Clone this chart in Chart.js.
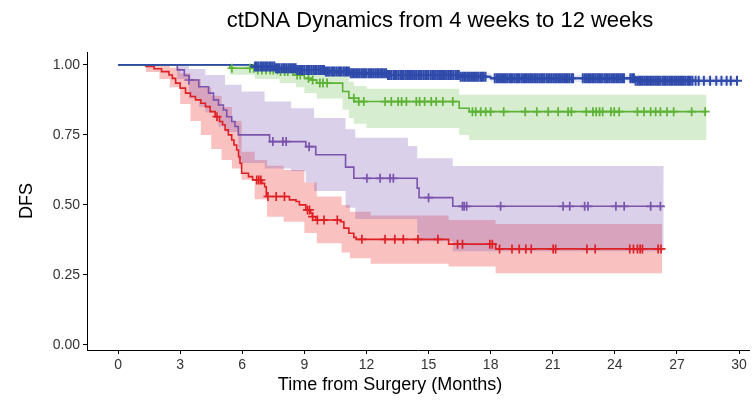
<!DOCTYPE html>
<html>
<head>
<meta charset="utf-8">
<script src="https://cdn.jsdelivr.net/npm/chart.js@4.4.1/dist/chart.umd.min.js"></script>
<style>
  body { margin: 0; background: #fff; }
  #wrap { width: 756px; height: 400px; }
</style>
</head>
<body>
<div id="wrap"><canvas id="kmChart" width="756" height="400"></canvas></div>
<script>
// ---- data: Kaplan-Meier steps (time in months -> DFS after the drop) ----
const xTicks = [0, 3, 6, 9, 12, 15, 18, 21, 24, 27, 30];
const yTicks = [0, 0.25, 0.5, 0.75, 1];

const blueTimes = [0, 6.6, 7.6, 8.6, 10.0, 11.2, 13.0, 16.5, 18.0, 25.0, 29.95];
const blueSurv  = [1, 0.994, 0.988, 0.982, 0.976, 0.97, 0.964, 0.958, 0.952, 0.943, 0.943];
const blueUpper = [1, 1, 0.996, 0.992, 0.987, 0.982, 0.977, 0.971, 0.965, 0.957, 0.957];
const blueLower = [1, 0.986, 0.978, 0.971, 0.964, 0.957, 0.95, 0.944, 0.938, 0.928, 0.928];
const blueCensor = [6.62, 6.7, 6.78, 6.88, 6.95, 7.04, 7.12, 7.2, 7.3, 7.38, 7.46, 7.55, 7.63, 7.72, 7.8,
  7.9, 7.98, 8.06, 8.15, 8.24, 8.32, 8.4, 8.5, 8.58, 8.66, 8.75, 8.84, 8.92, 9.0, 9.1, 9.18, 9.26, 9.35,
  9.44, 9.52, 9.6, 9.7, 9.78, 9.86, 9.95, 10.04, 10.12, 10.2, 10.3, 10.38, 10.46, 10.55, 10.64, 10.72,
  10.8, 10.9, 10.98, 11.06, 11.15, 11.24, 11.32, 11.4, 11.5, 11.58, 11.66, 11.75, 11.84, 11.92, 12.0,
  12.1, 12.18, 12.26, 12.35, 12.44, 12.52, 12.6, 12.7, 12.78, 12.86, 12.95, 13.04, 13.12, 13.2, 13.3,
  13.38, 13.46, 13.55, 13.64, 13.72, 13.8, 13.9, 13.98, 14.06, 14.15, 14.24, 14.32, 14.4, 14.5, 14.58,
  14.66, 14.75, 14.84, 14.92, 15.0, 15.1, 15.18, 15.26, 15.35, 15.44, 15.52, 15.6, 15.7, 15.78, 15.86,
  15.95, 16.04, 16.12, 16.2, 16.3, 16.38, 16.46, 16.55, 16.64, 16.72, 16.8, 16.9, 16.98, 17.06, 17.15,
  17.24, 17.32, 17.4, 17.5, 17.58, 17.66, 17.75, 18.2, 18.3, 18.38, 18.46, 18.55, 18.64, 18.72, 18.8,
  18.9, 18.98, 19.06, 19.15, 19.24, 19.32, 19.4, 19.5, 19.58, 19.66, 19.75, 19.84, 19.92, 20.0, 20.1,
  20.18, 20.26, 20.35, 20.44, 20.52, 20.6, 20.7, 20.78, 20.86, 20.95, 21.04, 21.12, 21.2, 21.3, 21.38,
  21.46, 21.55, 21.64, 21.72, 21.8, 21.9, 21.98, 22.45, 22.55, 22.64, 22.72, 22.8, 22.9, 22.98, 23.06,
  23.15, 23.24, 23.32, 23.4, 23.5, 23.58, 23.66, 23.75, 23.84, 23.92, 24.0, 24.1, 24.18, 24.26, 24.35,
  24.44, 24.75, 24.84, 24.92, 25.0, 25.1, 25.18, 25.26, 25.35, 25.44, 25.52, 25.6, 25.7, 25.78, 25.86,
  25.95, 26.04, 26.12, 26.2, 26.3, 26.38, 26.46, 26.55, 26.64, 26.72, 26.8, 26.9, 26.98, 27.06, 27.15,
  27.24, 27.32, 27.4, 27.5, 27.58, 27.66, 27.75, 27.9, 28.05, 28.3, 28.6, 28.9, 29.15, 29.4, 29.6, 29.9];

const greenTimes = [0, 5.4, 6.6, 7.8, 8.6, 9.0, 9.3, 9.6, 10.85, 11.15, 11.4, 16.48, 16.96, 28.43];
const greenSurv  = [1, 0.988, 0.982, 0.976, 0.964, 0.952, 0.946, 0.935, 0.905, 0.881, 0.869, 0.845, 0.833, 0.833];
const greenBandTimes = [0, 5.4, 6.6, 7.8, 8.6, 9.0, 9.6, 10.85, 11.15, 11.4, 12.0, 16.48, 16.96, 28.43];
const greenUpper = [1, 1, 1, 0.995, 0.99, 0.985, 0.98, 0.96, 0.94, 0.925, 0.915, 0.893, 0.893, 0.893];
const greenLower = [1, 0.965, 0.95, 0.935, 0.92, 0.9, 0.88, 0.84, 0.81, 0.79, 0.775, 0.75, 0.732, 0.732];
const greenCensor = [5.5, 6.37, 6.55, 6.75, 6.95, 7.15, 7.35, 7.5, 7.7, 7.85, 8.05, 8.2, 8.45, 8.65, 8.8,
  9.2, 9.4, 9.75, 9.9, 10.1, 11.39, 11.63, 11.87, 12.9, 13.2, 13.53, 13.7, 13.93, 14.41, 14.57, 14.81,
  15.13, 15.37, 15.69, 16.17, 17.12, 17.28, 17.52, 17.76, 18.0, 18.63, 19.67, 20.23, 20.78, 21.26, 21.74,
  21.9, 22.62, 22.94, 23.1, 23.26, 23.41, 23.81, 23.97, 24.21, 25.09, 25.41, 25.73, 25.97, 26.2, 26.52,
  26.84, 27.71, 28.36];

const purpleTimes = [0, 2.86, 3.2, 3.42, 3.9, 4.37, 4.61, 4.85, 5.09, 5.25, 5.49, 5.65, 5.81, 7.32, 9.07,
  9.55, 10.99, 11.39, 14.45, 14.54, 16.17, 26.36];
const purpleSurv  = [1, 0.982, 0.962, 0.946, 0.922, 0.899, 0.875, 0.857, 0.839, 0.815, 0.798, 0.78, 0.75,
  0.726, 0.708, 0.679, 0.635, 0.595, 0.56, 0.526, 0.495, 0.495];
const purpleBandTimes = [0, 2.86, 3.42, 3.9, 4.22, 4.85, 5.17, 5.81, 5.97, 7.08, 8.36, 9.07, 9.47, 10.99,
  11.46, 14.0, 14.45, 14.54, 16.17, 26.36];
const purpleUpper = [1, 1, 0.985, 0.985, 0.964, 0.964, 0.929, 0.929, 0.905, 0.869, 0.845, 0.845, 0.81, 0.77,
  0.74, 0.71, 0.667, 0.667, 0.639, 0.639];
const purpleLower = [1, 0.95, 0.88, 0.85, 0.83, 0.78, 0.76, 0.66, 0.65, 0.63, 0.62, 0.58, 0.55, 0.49,
  0.45, 0.45, 0.40, 0.37, 0.335, 0.335];
const purpleCensor = [3.42, 7.48, 7.96, 8.12, 9.23, 12.02, 12.66, 13.14, 13.3, 15.0, 16.64, 16.72, 16.84,
  18.48, 21.5, 21.82, 22.54, 22.7, 24.05, 24.45, 25.73, 26.2];

const redTimes = [0, 1.35, 1.74, 2.1, 2.46, 2.62, 2.78, 3.0, 3.26, 3.5, 3.74, 4.0, 4.22, 4.45, 4.69, 4.9,
  5.05, 5.17, 5.33, 5.49, 5.6, 5.73, 5.82, 5.89, 5.97, 6.3, 6.5, 6.95, 7.08, 7.16, 8.28, 8.6, 8.76, 9.07,
  9.3, 9.39, 9.55, 10.75, 10.91, 11.15, 11.39, 11.5, 15.97, 18.24, 26.28];
const redSurv  = [1, 0.994, 0.986, 0.976, 0.964, 0.952, 0.935, 0.917, 0.899, 0.887, 0.875, 0.863, 0.851,
  0.833, 0.815, 0.798, 0.786, 0.768, 0.75, 0.732, 0.714, 0.696, 0.672, 0.649, 0.613, 0.601, 0.589, 0.577,
  0.565, 0.53, 0.518, 0.512, 0.5, 0.482, 0.47, 0.458, 0.446, 0.44, 0.417, 0.399, 0.384, 0.377, 0.36, 0.343,
  0.343];
const redBandTimes = [0, 1.35, 2.0, 2.5, 3.0, 3.5, 4.0, 4.5, 5.0, 5.5, 5.97, 6.6, 7.2, 8.0, 9.0, 9.6, 10.8,
  11.2, 12.2, 15.97, 18.24, 26.28];
const redUpper = [1, 1, 1, 0.99, 0.97, 0.95, 0.92, 0.89, 0.85, 0.8, 0.69, 0.66, 0.64, 0.625, 0.58, 0.53,
  0.5, 0.476, 0.462, 0.446, 0.432, 0.432];
const redLower = [1, 0.975, 0.95, 0.92, 0.86, 0.8, 0.75, 0.7, 0.66, 0.63, 0.59, 0.52, 0.458, 0.44,
  0.4, 0.363, 0.33, 0.31, 0.29, 0.28, 0.256, 0.256];
const redCensor = [4.78, 6.7, 6.8, 6.9, 7.24, 7.64, 8.04, 9.15, 9.25, 9.4, 9.63, 9.95, 10.59, 11.78, 12.9,
  13.37, 13.78, 14.49, 15.45, 16.4, 16.64, 17.96, 18.08, 18.43, 19.03, 19.38, 19.7, 19.96, 21.02, 21.14,
  22.65, 23.05, 24.72, 24.9, 25.09, 25.22, 25.33, 26.09, 26.23];

const titleText = 'ctDNA Dynamics from 4 weeks to 12 weeks';
const xTitleText = 'Time from Surgery (Months)';
const yTitleText = 'DFS';

// ---- styling ----
const FONT = "'Liberation Sans', Arial, Helvetica, sans-serif";
const groups = [
  { times: blueTimes, surv: blueSurv, bandT: blueTimes, up: blueUpper, lo: blueLower, cens: blueCensor,
    line: 'rgb(46,74,170)', fill: 'rgba(46,74,170,0.12)', mark: 5, markWidth: 2 },
  { times: greenTimes, surv: greenSurv, bandT: greenBandTimes, up: greenUpper, lo: greenLower, cens: greenCensor,
    line: 'rgb(92,178,52)', fill: 'rgba(100,185,70,0.26)', mark: 4.5, markWidth: 1.7 },
  { times: purpleTimes, surv: purpleSurv, bandT: purpleBandTimes, up: purpleUpper, lo: purpleLower, cens: purpleCensor,
    line: 'rgb(122,84,172)', fill: 'rgba(125,85,175,0.28)', mark: 4.5, markWidth: 1.7 },
  { times: redTimes, surv: redSurv, bandT: redBandTimes, up: redUpper, lo: redLower, cens: redCensor,
    line: 'rgb(222,32,36)', fill: 'rgba(238,50,50,0.30)', mark: 4.5, markWidth: 1.7 },
];

function pts(xs, ys) {
  return xs.map((x, i) => ({ x: x, y: ys[i] }));
}

// censored subjects sit on the curve at the current step value
function survAt(times, surv, t) {
  let s = surv[0];
  for (let i = 0; i < times.length; i++) {
    if (times[i] <= t) s = surv[i];
  }
  return s;
}

const datasets = [];
groups.forEach(function (g) {
  datasets.push({
    data: pts(g.bandT, g.up), stepped: true, borderWidth: 0, pointRadius: 0,
    backgroundColor: g.fill, fill: '+1', order: 5,
  });
  datasets.push({
    data: pts(g.bandT, g.lo), stepped: true, borderWidth: 0, pointRadius: 0,
    fill: false, order: 5,
  });
});
groups.forEach(function (g) {
  datasets.push({
    data: pts(g.times, g.surv), stepped: true, borderColor: g.line, borderWidth: 1.6,
    pointRadius: 0, fill: false, order: 2,
  });
  datasets.push({
    data: g.cens.map(t => ({ x: t, y: survAt(g.times, g.surv, t) })), showLine: false,
    pointStyle: 'cross', pointRadius: g.mark, borderColor: g.line, borderWidth: g.markWidth, order: 1,
  });
});

// titles placed over the panel
const titlesPlugin = {
  id: 'titles',
  afterDraw(chart) {
    const ctx = chart.ctx;
    const area = chart.chartArea;
    ctx.save();
    ctx.fillStyle = '#000';
    ctx.textAlign = 'center';
    ctx.textBaseline = 'middle';
    ctx.font = '22px ' + FONT;
    ctx.fillText(titleText, area.left + 353, 21);
    ctx.font = '18px ' + FONT;
    ctx.fillText(xTitleText, area.left + 303, 385);
    ctx.restore();
  }
};

const ctx = document.getElementById('kmChart').getContext('2d');
const chart = new Chart(ctx, {
  type: 'line',
  data: { datasets: datasets },
  options: {
    responsive: false,
    animation: false,
    devicePixelRatio: 1,
    events: [],
    layout: { padding: { top: 52, right: 0, bottom: 0, left: 0 } },
    plugins: {
      legend: { display: false },
      tooltip: { enabled: false },
      title: { display: false },
      filler: { propagate: false },
    },
    scales: {
      x: {
        type: 'linear',
        min: -1.5,
        max: 30.48,
        afterBuildTicks: s => { s.ticks = xTicks.map(v => ({ value: v })); },
        afterFit: s => { s.height = 50; },
        grid: { drawOnChartArea: false, drawTicks: true, tickLength: 4, color: '#000' },
        border: { color: '#000', width: 1 },
        ticks: { color: '#333', font: { family: FONT, size: 14 }, padding: 3, maxRotation: 0 },
      },
      y: {
        type: 'linear',
        min: -0.018,
        max: 1.046,
        afterBuildTicks: s => { s.ticks = yTicks.map(v => ({ value: v })); },
        afterFit: s => { s.width = 87; },
        grid: { drawOnChartArea: false, drawTicks: true, tickLength: 4, color: '#000' },
        border: { color: '#000', width: 1 },
        ticks: { color: '#333', font: { family: FONT, size: 14 }, padding: 3,
          callback: v => v.toFixed(2) },
        title: { display: true, text: yTitleText, color: '#000',
          font: { family: FONT, size: 18 }, padding: { top: 16, bottom: 0 } },
      },
    },
  },
  plugins: [titlesPlugin],
});
</script>
</body>
</html>
